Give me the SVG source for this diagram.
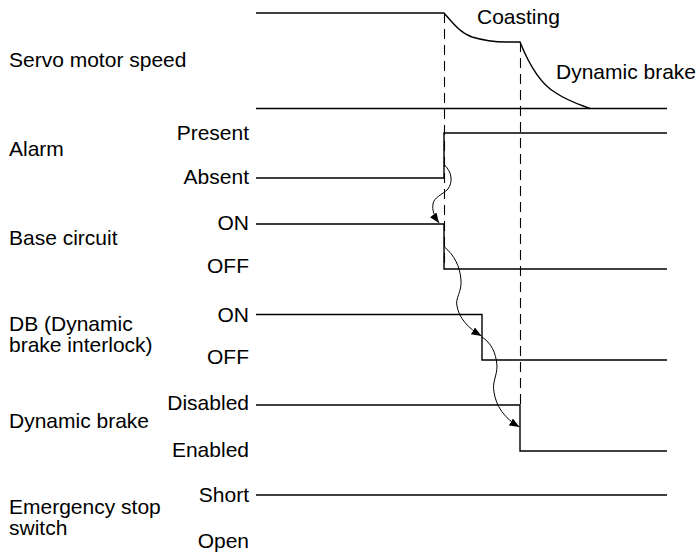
<svg xmlns="http://www.w3.org/2000/svg" width="697" height="557" viewBox="0 0 697 557">
<defs>
<style>
text{font-family:"Liberation Sans",Arial,sans-serif;font-size:21px;fill:#000}
.r{text-anchor:end}
.sig{fill:none;stroke:#000;stroke-width:1.4}
.dash{fill:none;stroke:#000;stroke-width:1.1;stroke-dasharray:10,6}
.wave{fill:none;stroke:#000;stroke-width:1}
</style>
<marker id="ah" viewBox="0 0 10 8" refX="10" refY="4" markerWidth="10" markerHeight="8" markerUnits="userSpaceOnUse" orient="auto">
<path d="M0,0 L10,4 L0,8 Z" fill="#000"/>
</marker>
</defs>
<rect width="697" height="557" fill="#fff"/>
<g id="speed">
<text x="9" y="67">Servo motor speed</text>
<path class="sig" d="M256,13 H444 C452,22 460,33 472,37 C482,40 495,42 506,42 H520 C528,62 540,84 556,93 C568,101 578,104 590,108.5"/>
<path class="sig" d="M256,108.5 H667"/>
<text x="477" y="24">Coasting</text>
<text x="556" y="79">Dynamic brake</text>
</g>
<g id="alarm">
<text x="9" y="156">Alarm</text>
<text class="r" x="249" y="139.5">Present</text>
<text class="r" x="249" y="183.5">Absent</text>
<path class="sig" d="M256,178 H444 V133 H667"/>
</g>
<g id="base">
<text x="9" y="245">Base circuit</text>
<text class="r" x="249" y="230">ON</text>
<text class="r" x="249" y="272.5">OFF</text>
<path class="sig" d="M256,224 H444 V269 H667"/>
</g>
<g id="db">
<text x="9" y="331">DB (Dynamic</text>
<text x="9" y="352">brake interlock)</text>
<text class="r" x="249" y="321.5">ON</text>
<text class="r" x="249" y="364">OFF</text>
<path class="sig" d="M256,314.5 H482 V360 H667"/>
</g>
<g id="dynbrake">
<text x="9" y="428">Dynamic brake</text>
<text class="r" x="249" y="410">Disabled</text>
<text class="r" x="249" y="456.5">Enabled</text>
<path class="sig" d="M256,405 H520 V451 H667"/>
</g>
<g id="estop">
<text x="9" y="514">Emergency stop</text>
<text x="9" y="535">switch</text>
<text class="r" x="249" y="502">Short</text>
<text class="r" x="249" y="548">Open</text>
<path class="sig" d="M256,495 H667"/>
</g>
<g id="connectors">
<path class="dash" d="M444.5,13 V269"/>
<path class="dash" d="M520.5,42 V405"/>
<path class="wave" marker-end="url(#ah)" d="M444.5,165 C452,172 453,182 448,189 C442,195 434,197 433,204 C432,210 434,216 439,223"/>
<path class="wave" marker-end="url(#ah)" d="M444.5,247 C454,255 460,266 461,280 C462,292 455,298 457,306 C459,318 468,328 481.5,336"/>
<path class="wave" marker-end="url(#ah)" d="M482,337 C491,343 496,352 497,366 C497,376 492,382 494,392 C496,406 504,418 519.5,427"/>
</g>
</svg>
